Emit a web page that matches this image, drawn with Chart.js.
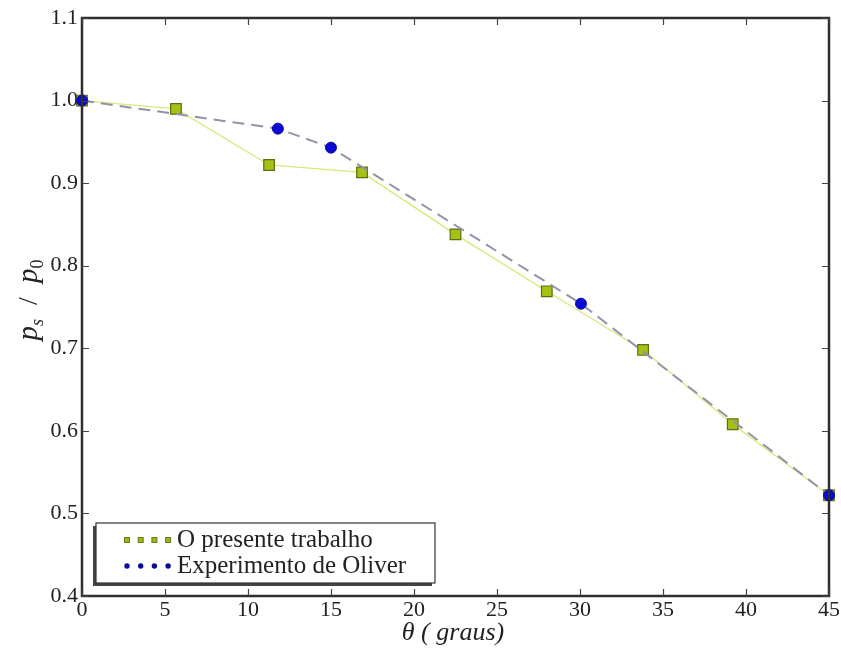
<!DOCTYPE html>
<html>
<head>
<meta charset="utf-8">
<script src="https://cdn.jsdelivr.net/npm/chart.js@4.4.0/dist/chart.umd.min.js"></script>
<style>
  html, body { margin: 0; padding: 0; background: #fff; }
  #wrap { width: 841px; height: 653px; position: relative; }
</style>
</head>
<body>
<div id="wrap"><canvas id="chart" width="841" height="653"></canvas></div>
<script>
// presente trabalho (green squares)
const presenteTheta = [0, 5.66, 11.27, 16.87, 22.5, 28.0, 33.8, 39.2, 45];
const presenteRatio = [1.0, 0.990, 0.922, 0.913, 0.838, 0.769, 0.698, 0.608, 0.522];

// experimento de Oliver (blue circles)
const oliverTheta = [0, 11.8, 15.0, 30.06, 45];
const oliverRatio = [1.0, 0.966, 0.943, 0.754, 0.522];

const xTicks = [0, 5, 10, 15, 20, 25, 30, 35, 40, 45];
const yTicks = [0.4, 0.5, 0.6, 0.7, 0.8, 0.9, 1.0, 1.1];

const legendLabels = ['O presente trabalho', 'Experimento de Oliver'];

const serif = '"Liberation Serif", "DejaVu Serif", serif';

function toPoints(xs, ys) {
  return xs.map((x, i) => ({ x: x, y: ys[i] }));
}

// frame, inward ticks on all sides, axis titles, legend box
const framePlugin = {
  id: 'frame',
  afterDraw(chart) {
    const ctx = chart.ctx;
    const a = chart.chartArea;
    const xs = chart.scales.x, ys = chart.scales.y;
    ctx.save();
    ctx.strokeStyle = '#2e2e2e';
    ctx.lineWidth = 2.5;
    ctx.strokeRect(a.left, a.top, a.right - a.left, a.bottom - a.top);

    ctx.lineWidth = 1.2;
    ctx.strokeStyle = '#444';
    ctx.beginPath();
    xTicks.forEach(v => {
      const px = Math.round(xs.getPixelForValue(v)) + 0.5;
      ctx.moveTo(px, a.bottom); ctx.lineTo(px, a.bottom - 7);
      ctx.moveTo(px, a.top); ctx.lineTo(px, a.top + 7);
    });
    yTicks.forEach(v => {
      const py = Math.round(ys.getPixelForValue(v)) + 0.5;
      ctx.moveTo(a.left, py); ctx.lineTo(a.left + 7, py);
      ctx.moveTo(a.right, py); ctx.lineTo(a.right - 7, py);
    });
    ctx.stroke();

    // x title
    ctx.fillStyle = '#222';
    ctx.textBaseline = 'alphabetic';
    ctx.textAlign = 'center';
    ctx.font = 'italic 26px ' + serif;
    ctx.fillText('\u03b8 ( graus)', 453, 640);

    // y title: p_s / p_0 rotated
    ctx.save();
    ctx.translate(37, 300);
    ctx.rotate(-Math.PI / 2);
    ctx.textAlign = 'left';
    const big = 'italic 29px ' + serif;
    const small = 'italic 18px ' + serif;
    const smallUp = '18px ' + serif;
    const parts = [
      [big, 'p', 0], [small, 's', 6], ['28px ' + serif, '  /  ', 0], [big, 'p', 0], [smallUp, '0', 6]
    ];
    let w = 0;
    parts.forEach(p => { ctx.font = p[0]; w += ctx.measureText(p[1]).width; });
    let cx = -w / 2;
    parts.forEach(p => {
      ctx.font = p[0];
      ctx.fillText(p[1], cx, p[2]);
      cx += ctx.measureText(p[1]).width;
    });
    ctx.restore();

    // legend
    const lx = 96, ly = 523, lw = 339, lh = 60;
    ctx.fillStyle = '#444';
    ctx.fillRect(lx - 3, ly + 3, lw, lh);
    ctx.fillStyle = '#fff';
    ctx.fillRect(lx, ly, lw, lh);
    ctx.strokeStyle = '#333';
    ctx.lineWidth = 1.2;
    ctx.strokeRect(lx, ly, lw, lh);

    const rows = [540, 566];
    for (let k = 0; k < 4; k++) {
      const mx = 127 + k * 13.7;
      ctx.fillStyle = '#9ab520';
      ctx.strokeStyle = '#6b7d18';
      ctx.lineWidth = 1;
      ctx.fillRect(mx - 2.5, rows[0] - 2.5, 5, 5);
      ctx.strokeRect(mx - 2.5, rows[0] - 2.5, 5, 5);
      ctx.fillStyle = '#0a0a9c';
      ctx.beginPath();
      ctx.arc(mx, rows[1], 2.7, 0, Math.PI * 2);
      ctx.fill();
    }
    ctx.fillStyle = '#222';
    ctx.font = '25px ' + serif;
    ctx.textAlign = 'left';
    ctx.textBaseline = 'middle';
    ctx.fillText(legendLabels[0], 177, rows[0]);
    ctx.fillText(legendLabels[1], 177, rows[1]);
    ctx.restore();
  }
};

new Chart(document.getElementById('chart'), {
  type: 'scatter',
  data: {
    datasets: [
      {
        label: legendLabels[1],
        data: toPoints(oliverTheta, oliverRatio),
        showLine: true,
        borderColor: '#9094a8',
        borderWidth: 2,
        borderDash: [12, 7],
        pointStyle: 'circle',
        pointRadius: 5.5,
        pointBackgroundColor: '#0a0ad0',
        pointBorderColor: '#0a0ab0',
        pointBorderWidth: 1,
        clip: false
      },
      {
        label: legendLabels[0],
        data: toPoints(presenteTheta, presenteRatio),
        showLine: true,
        borderColor: '#d9e779',
        borderWidth: 1.3,
        pointStyle: 'rect',
        pointRadius: 7.5,
        pointBackgroundColor: '#a3c214',
        pointBorderColor: '#5f6e12',
        pointBorderWidth: 1.2,
        clip: false
      }
    ]
  },
  options: {
    responsive: false,
    animation: false,
    layout: { padding: { top: 18, right: 12, left: 0, bottom: 0 } },
    plugins: {
      legend: { display: false },
      tooltip: { enabled: false }
    },
    scales: {
      x: {
        type: 'linear',
        min: 0,
        max: 45,
        afterBuildTicks: s => { s.ticks = xTicks.map(v => ({ value: v })); },
        afterFit: s => { s.height = 57; },
        grid: { display: false, drawTicks: false },
        border: { display: false },
        ticks: {
          color: '#222',
          font: { family: serif, size: 22 },
          padding: 1,
          maxRotation: 0,
          callback: v => String(v)
        }
      },
      y: {
        type: 'linear',
        min: 0.4,
        max: 1.1,
        afterBuildTicks: s => { s.ticks = yTicks.map(v => ({ value: v })); },
        afterFit: s => { s.width = 82; },
        grid: { display: false, drawTicks: false },
        border: { display: false },
        ticks: {
          color: '#222',
          font: { family: serif, size: 22 },
          padding: 4,
          callback: v => Number(v).toFixed(1)
        }
      }
    }
  },
  plugins: [framePlugin]
});
</script>
</body>
</html>
